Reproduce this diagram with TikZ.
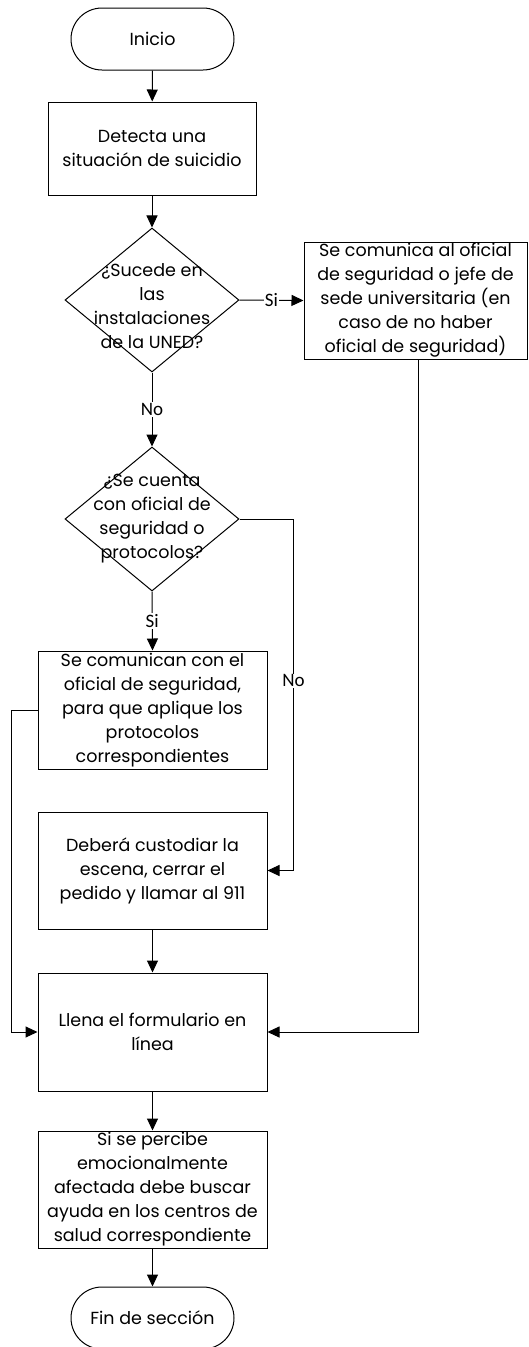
\documentclass[tikz,border=0pt]{standalone}
\usepackage{fontspec}
\setmainfont{Poppins}
\newfontfamily\etiquetafont{Carlito}
\usetikzlibrary{shapes,arrows.meta,positioning}

\begin{document}
\begin{tikzpicture}[x=1pt,y=-1pt,line width=1pt]
	\tikzstyle{every node}=[font=\fontsize{17.5}{24}\selectfont]
	\tikzstyle{proceso}=[draw, rectangle, minimum width=229pt, minimum height=117pt, align=center, inner sep=0pt]
	\tikzstyle{terminal}=[draw, rectangle, rounded corners=31pt, minimum width=163pt, minimum height=62pt]
	\tikzstyle{decision}=[draw, diamond, minimum width=174pt, minimum height=144pt, inner sep=0pt]
	\tikzstyle{flecha}=[-{Triangle[length=12pt,width=11pt]}]
	\tikzstyle{etiqueta}=[fill=white, inner sep=1pt, font=\etiquetafont\fontsize{19}{20}\selectfont]
	
	\useasboundingbox (0,0) rectangle (528,1347);
	
	\node[terminal] (inicio) at (152.5,39) {Inicio};
	\node[proceso, minimum width=208pt, minimum height=93pt] (detecta) at (152,148.5) {Detecta una\\situación de suicidio};
	
	\node[decision] (pregunta1) at (152,300) {};
	\node[align=center] (texto1) at (152,306) {¿Sucede en\\las\\instalaciones\\de la UNED?};
	\node[proceso, minimum width=223pt] (comunica) at (415.5,300.5) {Se comunica al oficial\\de seguridad o jefe de\\sede universitaria (en\\caso de no haber\\oficial de seguridad)};
	
	\node[decision] (pregunta2) at (152,519) {};
	\node[align=center] (texto2) at (152,519) {¿Se cuenta\\con oficial de\\seguridad o\\protocolos?};
	
	\node[proceso, minimum height=118pt] (oficial) at (152.5,710) {Se comunican con el\\oficial de seguridad,\\para que aplique los\\protocolos\\correspondientes};
	\node[proceso] (custodiar) at (152.5,870.5) {Deberá custodiar la\\escena, cerrar el\\pedido y llamar al 911};
	\node[proceso, minimum height=118pt] (llena) at (152.5,1032) {Llena el formulario en\\línea};
	\node[proceso] (ayuda) at (152.5,1189.5) {Si se percibe\\emocionalmente\\afectada debe buscar\\ayuda en los centros de\\salud correspondiente};
	\node[terminal] (fin) at (152.5,1318) {Fin de sección};
	
	% flechas
	\draw[flecha] (inicio) -- (detecta);
	\draw[flecha] (detecta) -- (pregunta1);
	\draw[flecha] (pregunta1.east) -- node[etiqueta] {Si} (comunica.west);
	\draw[flecha] (pregunta1.south) -- node[etiqueta] {No} (pregunta2.north);
	\draw[flecha] (pregunta2.south) -- node[etiqueta] {Si} (oficial.north);
	\draw[flecha] (pregunta2.east) -- ++(54,0) |- node[etiqueta, pos=0.23] {No} (custodiar.east);
	\draw[flecha] (oficial.west) -- ++(-26,0) |- (llena.west);
	\draw[flecha] (custodiar) -- (llena);
	\draw[flecha] (comunica.south) ++(3,0) coordinate (bajada) |- (llena.east);
	\draw[flecha] (llena) -- (ayuda);
	\draw[flecha] (ayuda) -- (fin);
	
\end{tikzpicture}
\end{document}
